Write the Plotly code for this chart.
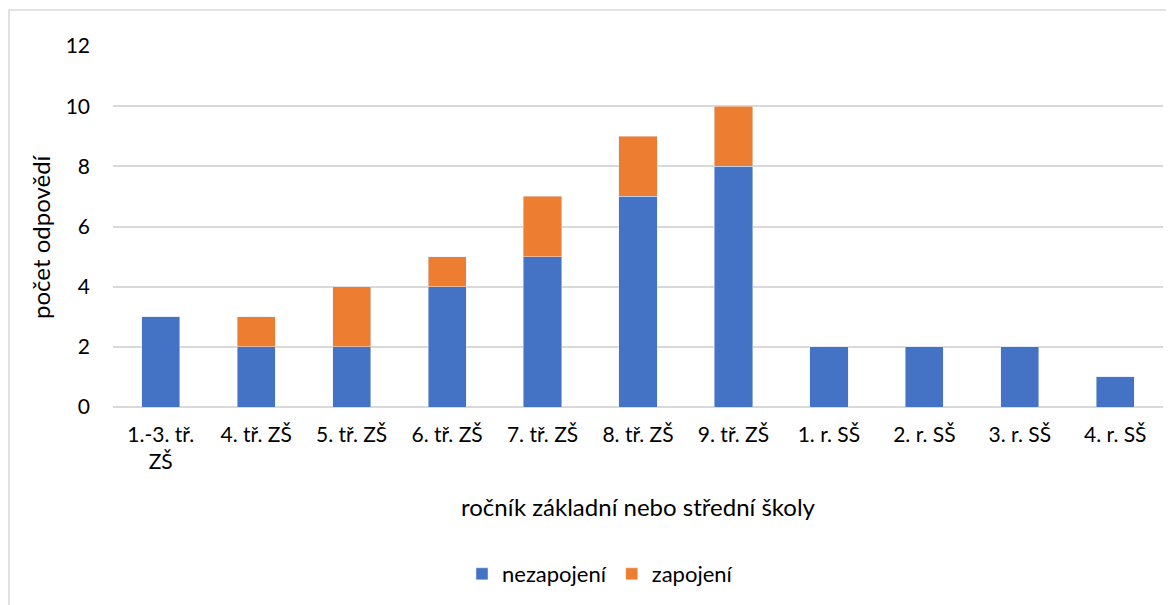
import plotly.graph_objects as go

categories = ["1.-3. tř.<br>ZŠ", "4. tř. ZŠ", "5. tř. ZŠ", "6. tř. ZŠ", "7. tř. ZŠ", "8. tř. ZŠ",
              "9. tř. ZŠ", "1. r. SŠ", "2. r. SŠ", "3. r. SŠ", "4. r. SŠ"]
nezapojeni = [3, 2, 2, 4, 5, 7, 8, 2, 2, 2, 1]
zapojeni = [0, 1, 2, 1, 2, 2, 2, 0, 0, 0, 0]

FONT = "Lato"
W, H = 1174, 605
OFF = 8  # page body margin
SL, SR, ST, SB = 113, 1163, 46, 407  # plot area on screen
pw, ph = SR - SL, SB - ST
L, T = SL - OFF, ST - OFF
R = W - L - pw
B = H - T - ph

def px(x):
    return (x - SL) / pw

def py(y):
    return (SB - y) / ph

fig = go.Figure()
fig.add_bar(x=categories, y=nezapojeni, name="nezapojení", marker_color="#4472C4")
fig.add_bar(x=categories, y=zapojeni, name="zapojení", marker_color="#ED7D31")

fig.update_layout(
    barmode="stack",
    bargap=0.6,
    width=W, height=H,
    margin=dict(l=L, r=R, t=T, b=B),
    plot_bgcolor="white", paper_bgcolor="white",
    font=dict(family=FONT, size=21, color="#000000"),
    showlegend=True,
    legend=dict(orientation="h", x=px(600), xanchor="center", y=py(574), yanchor="middle",
                font=dict(size=22), traceorder="normal", itemwidth=30),
    shapes=[dict(type="rect", xref="paper", yref="paper",
                 x0=px(9), x1=px(1176), y0=py(615), y1=py(10),
                 line=dict(color="#d9d9d9", width=1.5), fillcolor="rgba(0,0,0,0)", layer="below")],
    annotations=[dict(text="počet odpovědí", xref="paper", yref="paper",
                      x=px(40), y=py(237), xanchor="center", yanchor="middle",
                      textangle=-90, showarrow=False, font=dict(size=24))],
)
fig.update_xaxes(
    title=dict(text="ročník základní nebo střední školy", font=dict(size=24), standoff=26),
    tickfont=dict(size=21), showline=False, showgrid=False, ticks="", ticklabelstandoff=13,
)
fig.update_yaxes(
    range=[0, 12], dtick=2, tickfont=dict(size=21), ticklabelstandoff=22,
    showgrid=True, gridcolor="#d9d9d9", gridwidth=1.5,
    zeroline=True, zerolinecolor="#d9d9d9", zerolinewidth=1.5, ticks="", ticklen=0,
)
fig.write_html("out.html")
